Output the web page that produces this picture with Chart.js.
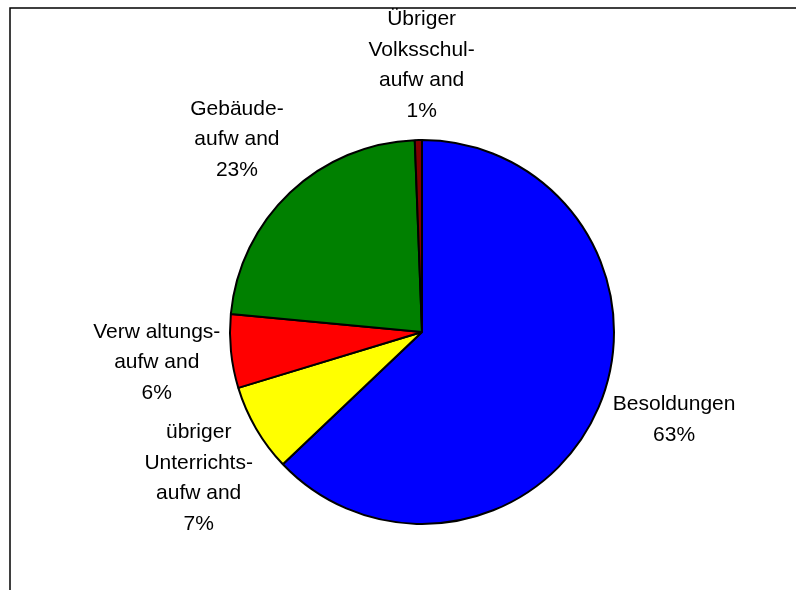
<!DOCTYPE html>
<html>
<head>
    <meta charset="UTF-8">
    <title>Volksschule Aufwand</title>
    <script src="https://cdn.jsdelivr.net/npm/chart.js@4.4.1/dist/chart.umd.min.js"></script>
    <style>
        html, body { margin: 0; padding: 0; background: #fff; }
        #wrap { width: 796px; height: 590px; }
    </style>
</head>
<body>
<div id="wrap"><canvas id="pie-chart" width="796" height="590"></canvas></div>
<script>
    // Kategorien (Textzeilen wie im Original) und Werte in %
    var categories = ['Besoldungen', 'übriger Unterrichtsaufwand', 'Verwaltungsaufwand', 'Gebäudeaufwand', 'Übriger Volksschulaufwand'];
    var labelLines = [
        ['Besoldungen'],
        ['übriger', 'Unterrichts-', 'aufw and'],
        ['Verw altungs-', 'aufw and'],
        ['Gebäude-', 'aufw and'],
        ['Übriger', 'Volksschul-', 'aufw and']
    ];
    var values = [62.9, 7.4, 6.2, 22.9, 0.6];
    var colors = ['#0000FF', '#FFFF00', '#FF0000', '#008000', '#800000'];

    var frame = {
        id: 'frame',
        beforeDraw: function (chart) {
            var ctx = chart.ctx;
            ctx.save();
            ctx.strokeStyle = '#000';
            ctx.lineWidth = 1.5;
            ctx.beginPath();
            ctx.moveTo(10, 600);
            ctx.lineTo(10, 8);
            ctx.lineTo(800, 8);
            ctx.stroke();
            ctx.restore();
        }
    };

    var outsideLabels = {
        id: 'outsideLabels',
        afterDraw: function (chart, args, opts) {
            var ctx = chart.ctx;
            var meta = chart.getDatasetMeta(0);
            var total = values.reduce(function (a, b) { return a + b; }, 0);
            var lh = 30.5;
            ctx.save();
            ctx.font = '21px "Liberation Sans", Arial, sans-serif';
            ctx.fillStyle = '#000';
            ctx.textAlign = 'center';
            ctx.textBaseline = 'middle';
            meta.data.forEach(function (arc, i) {
                var p = arc.getProps(['x', 'y', 'startAngle', 'endAngle', 'outerRadius'], true);
                // Excel schiebt einige Beschriftungen leicht vom Mittelwinkel weg
                var mid = (p.startAngle + p.endAngle) / 2 + (opts.nudge[i] || 0) * Math.PI / 180;
                var r = p.outerRadius + opts.offset;
                var cx = p.x + Math.cos(mid) * r;
                var cy = p.y + Math.sin(mid) * r;
                var lines = labelLines[i].concat([Math.round(values[i] / total * 100) + '%']);
                var y0 = cy - (lines.length - 1) * lh / 2;
                lines.forEach(function (s, j) {
                    ctx.fillText(s, cx, y0 + j * lh);
                });
            });
            ctx.restore();
        }
    };

    var chart = new Chart(document.getElementById('pie-chart'), {
        type: 'pie',
        data: {
            labels: categories,
            datasets: [{
                data: values,
                backgroundColor: colors,
                borderColor: '#000',
                borderWidth: 2
            }]
        },
        options: {
            responsive: false,
            animation: false,
            layout: { padding: { left: 229, right: 181, top: 139, bottom: 65 } },
            plugins: {
                legend: { display: false },
                tooltip: { enabled: false },
                outsideLabels: { offset: 75, nudge: [-4, -3, -0.8, -0.5, 1] }
            }
        },
        plugins: [frame, outsideLabels]
    });
</script>
</body>
</html>
